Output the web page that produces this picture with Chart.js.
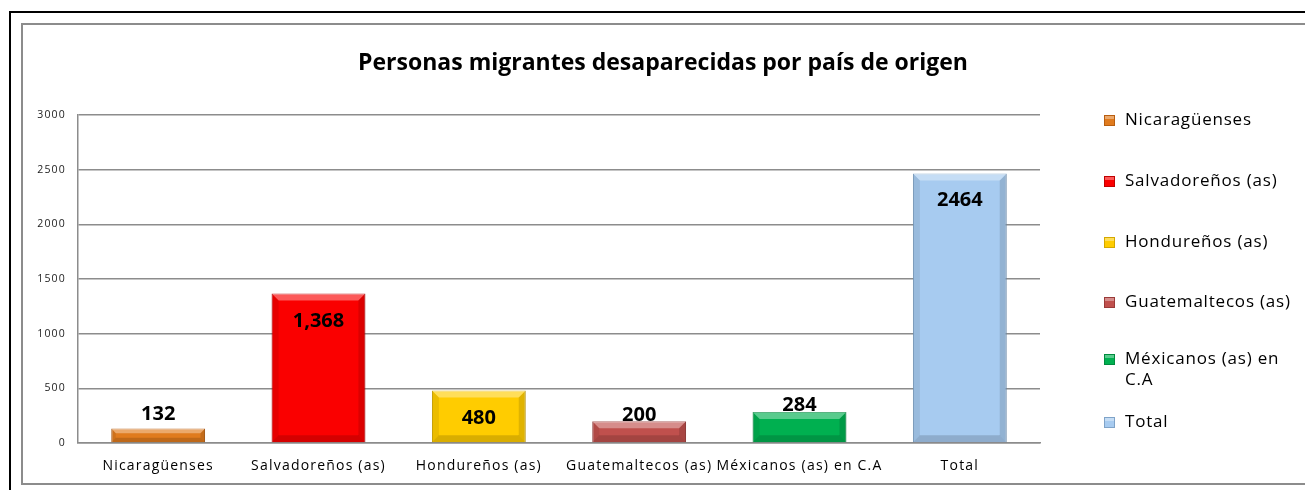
<!DOCTYPE html>
<html>
<head>
<meta charset="utf-8">
<script src="https://cdn.jsdelivr.net/npm/chart.js@4.4.1/dist/chart.umd.min.js"></script>
<style>
  html, body { margin: 0; padding: 0; background: #ffffff; }
  #wrap { position: relative; width: 1305px; height: 490px; }
  canvas { display: block; }
</style>
</head>
<body>
<div id="wrap"><canvas id="c" width="1305" height="490"></canvas></div>
<script>
// ---- Data ----
const categories = ['Nicaragüenses', 'Salvadoreños (as)', 'Hondureños (as)', 'Guatemaltecos (as)', 'Méxicanos (as) en C.A', 'Total'];
const legendLabels = [['Nicaragüenses'], ['Salvadoreños (as)'], ['Hondureños (as)'], ['Guatemaltecos (as)'], ['Méxicanos (as) en', 'C.A'], ['Total']];
const values = [132, 1368, 480, 200, 284, 2464];
const valueLabels = ['132', '1,368', '480', '200', '284', '2464'];
const yTicks = [0, 500, 1000, 1500, 2000, 2500, 3000];
const titleText = 'Personas migrantes desaparecidas por país de origen';

// ---- Styles ----
const barColors = ['#E07B1E', '#FA0000', '#FFCC00', '#C0504D', '#00B050', '#A7CBF0'];
const barBorders = ['#B85E10', '#C00000', '#D4A800', '#9A3A38', '#008A3E', '#7FA3C8'];
const labelOffsets = [-14, 28, 28, -6, -7, 27]; // label centre relative to bar top (px)
const legendRows = [120, 181, 242, 302, 359, 422];
const FONT = '"Open Sans", "Noto Sans", sans-serif';

const framePlugin = {
  id: 'frame',
  beforeDraw(chart) {
    const ctx = chart.ctx;
    ctx.save();
    ctx.letterSpacing = '0px';
    ctx.fillStyle = '#ffffff';
    ctx.fillRect(0, 0, chart.width, chart.height);
    // outer black frame
    ctx.strokeStyle = '#000000';
    ctx.lineWidth = 2;
    ctx.beginPath();
    ctx.moveTo(10, 492); ctx.lineTo(10, 12); ctx.lineTo(1310, 12);
    ctx.stroke();
    // inner grey frame
    ctx.strokeStyle = '#8C8C8C';
    ctx.lineWidth = 2;
    ctx.beginPath();
    ctx.moveTo(1310, 24); ctx.lineTo(22, 24); ctx.lineTo(22, 484); ctx.lineTo(1310, 484);
    ctx.stroke();
    // title
    ctx.fillStyle = '#000000';
    ctx.font = 'bold 23px ' + FONT;
    ctx.textAlign = 'center';
    ctx.textBaseline = 'alphabetic';
    ctx.fillText(titleText, 663, 70);
    ctx.restore();
    // axis tick labels in the original are loosely spaced
    ctx.letterSpacing = '1.2px';
  },
  afterDatasetsDraw(chart) {
    const ctx = chart.ctx;
    const meta = chart.getDatasetMeta(0);
    ctx.save();
    ctx.letterSpacing = '0px';
    meta.data.forEach((bar, i) => {
      const left = bar.x - bar.width / 2;
      const right = bar.x + bar.width / 2;
      const top = bar.y;
      const bottom = bar.base;
      const h = bottom - top;
      const bev = Math.min(7, h / 3);
      ctx.fillStyle = 'rgba(255,255,255,0.35)';
      ctx.beginPath();
      ctx.moveTo(left, top); ctx.lineTo(right, top);
      ctx.lineTo(right - bev, top + bev); ctx.lineTo(left + bev, top + bev);
      ctx.closePath(); ctx.fill();
      ctx.fillStyle = 'rgba(0,0,0,0.12)';
      ctx.beginPath();
      ctx.moveTo(right, top); ctx.lineTo(right, bottom);
      ctx.lineTo(right - bev, bottom - bev); ctx.lineTo(right - bev, top + bev);
      ctx.closePath(); ctx.fill();
      ctx.fillStyle = 'rgba(0,0,0,0.08)';
      ctx.beginPath();
      ctx.moveTo(left, top); ctx.lineTo(left, bottom);
      ctx.lineTo(left + bev, bottom - bev); ctx.lineTo(left + bev, top + bev);
      ctx.closePath(); ctx.fill();
      ctx.fillStyle = 'rgba(0,0,0,0.15)';
      ctx.beginPath();
      ctx.moveTo(left, bottom); ctx.lineTo(right, bottom);
      ctx.lineTo(right - bev, bottom - bev); ctx.lineTo(left + bev, bottom - bev);
      ctx.closePath(); ctx.fill();
    });
    // data labels
    ctx.fillStyle = '#000000';
    ctx.font = 'bold 20px ' + FONT;
    ctx.textAlign = 'center';
    ctx.textBaseline = 'middle';
    meta.data.forEach((bar, i) => {
      ctx.fillText(valueLabels[i], bar.x, bar.y + labelOffsets[i]);
    });
    // legend
    ctx.font = '17px ' + FONT;
    ctx.letterSpacing = '0.8px';
    ctx.textAlign = 'left';
    legendLabels.forEach((lines, i) => {
      const y = legendRows[i];
      ctx.fillStyle = barColors[i];
      ctx.fillRect(1104, y - 5, 11, 11);
      ctx.strokeStyle = barBorders[i];
      ctx.lineWidth = 1;
      ctx.strokeRect(1104.5, y - 4.5, 10, 10);
      ctx.fillStyle = 'rgba(255,255,255,0.35)';
      ctx.fillRect(1105, y - 4, 9, 3);
      ctx.fillStyle = '#000000';
      lines.forEach((t, k) => ctx.fillText(t, 1125, y + k * 21));
    });
    ctx.restore();
  }
};

new Chart(document.getElementById('c'), {
  type: 'bar',
  data: {
    labels: categories,
    datasets: [{
      label: 'Personas',
      data: values,
      backgroundColor: barColors,
      borderColor: barBorders,
      borderWidth: 1,
      categoryPercentage: 1.0,
      barPercentage: 0.585
    }]
  },
  options: {
    responsive: false,
    animation: false,
    devicePixelRatio: 1,
    layout: { padding: { left: 0, right: 265, top: 115, bottom: 0 } },
    plugins: {
      legend: { display: false },
      title: { display: false },
      tooltip: { enabled: false }
    },
    scales: {
      x: {
        grid: { display: false, drawTicks: false },
        border: { display: true, color: '#8C8C8C', width: 1.5 },
        ticks: { color: '#000000', font: { family: FONT, size: 14 }, padding: 15, maxRotation: 0, autoSkip: false },
        afterFit(scale) { scale.height = 47; }
      },
      y: {
        min: 0, max: 3000,
        afterBuildTicks(scale) { scale.ticks = yTicks.map(v => ({ value: v })); },
        grid: { color: '#8C8C8C', lineWidth: 1.5, drawTicks: false },
        border: { display: true, color: '#8C8C8C', width: 1.5 },
        ticks: { color: '#222222', font: { family: FONT, size: 10.5 }, padding: 12, callback: (v) => String(v) },
        afterFit(scale) { scale.width = 78; }
      }
    }
  },
  plugins: [framePlugin]
});
</script>
</body>
</html>
